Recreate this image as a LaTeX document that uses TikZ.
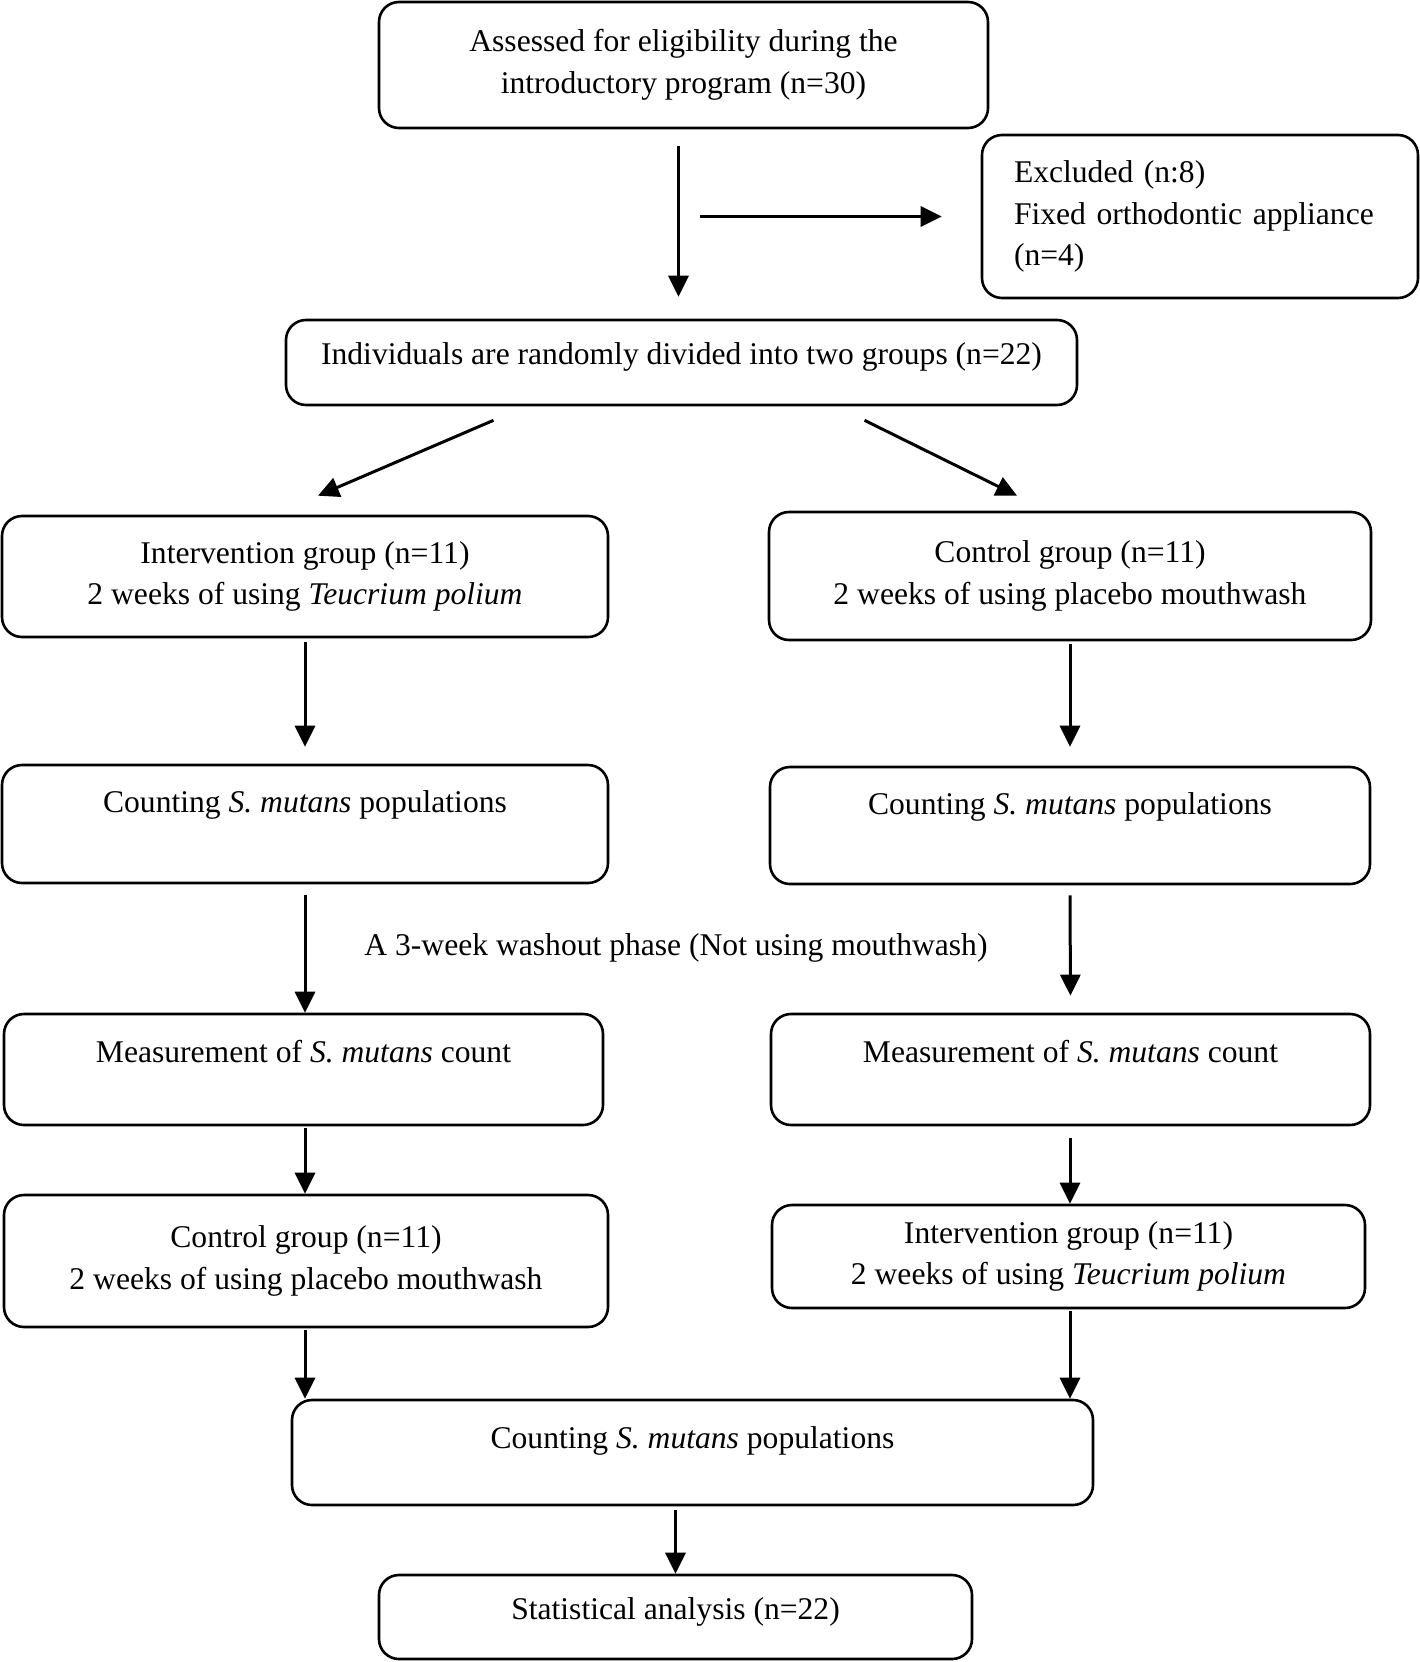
\documentclass[tikz,border=0pt]{standalone}
\usepackage{fontspec}
\setmainfont{Liberation Serif}
\usetikzlibrary{arrows.meta}
\begin{document}
\begin{tikzpicture}[x=1pt,y=-1pt,
    txt/.style={font=\fontsize{31.6}{41.5}\selectfont},
    box/.style={txt,draw,rounded corners=20pt,line width=2.6pt,align=center,inner sep=0pt},
    arr/.style={line width=3pt,-{Triangle[length=21pt,width=20pt]}}
]
\useasboundingbox (0,0) rectangle (1420,1662);

\node[box,minimum width=609,minimum height=126] (assess) at (683.5,65)
  {\raisebox{3pt}{Assessed for eligibility during the}\\\raisebox{3pt}{introductory program (n=30)}};
\node[box,align=left,text width=372,inner xsep=32,minimum height=163] (excl) at (1200,216.5)
  {Excluded (n:8)\\Fixed orthodontic appliance\\(n=4)};
\node[box,minimum width=791,minimum height=85] (rand) at (681.5,362.5)
  {Individuals are randomly divided into two groups (n=22)\\[-36pt]\strut};

\node[box,minimum width=606,minimum height=121] (intA) at (305,576.5)
  {Intervention group (n=11)\\2 weeks of using \textit{Teucrium polium}};
\node[box,minimum width=602,minimum height=128] (ctlA) at (1070,576)
  {Control group (n=11)\\2 weeks of using placebo mouthwash};
\node[box,minimum width=606,minimum height=118] (cntA) at (305,824)
  {Counting \textit{S. mutans} populations\\[-10pt]\strut};
\node[box,minimum width=600,minimum height=117] (cntB) at (1070,825.5)
  {Counting \textit{S. mutans} populations\\[-10pt]\strut};

\node[txt] (wash) at (676,948) {A 3-week washout phase (Not using mouthwash)};

\node[box,minimum width=599,minimum height=111] (measA) at (303.5,1069.5)
  {Measurement of \textit{S. mutans} count\\[-17pt]\strut};
\node[box,minimum width=599,minimum height=111] (measB) at (1070.5,1069.5)
  {Measurement of \textit{S. mutans} count\\[-17pt]\strut};
\node[box,minimum width=604,minimum height=132] (ctlB) at (306,1261)
  {Control group (n=11)\\2 weeks of using placebo mouthwash};
\node[box,minimum width=593,minimum height=103] (intB) at (1068.5,1256.5)
  {Intervention group (n=11)\\2 weeks of using \textit{Teucrium polium}};

\node[box,minimum width=801,minimum height=105] (cntAll) at (692.5,1452.5)
  {Counting \textit{S. mutans} populations\\[-24pt]\strut};
\node[box,minimum width=593,minimum height=84] (stats) at (675.5,1617)
  {Statistical analysis (n=22)\\[-36pt]\strut};

\draw[arr,shorten <=17pt,shorten >=22pt] ([xshift=-5pt]assess.south) -- ([xshift=-5pt]assess.south |- rand.north);
\draw[arr,shorten <=21pt,shorten >=39pt] ([xshift=-5pt]assess.south |- excl.west) -- (excl.west);
\draw[arr] ([xshift=-188pt,yshift=-14pt]rand.south) -- ([xshift=13pt,yshift=19pt]intA.north);
\draw[arr] ([xshift=183pt,yshift=-14pt]rand.south) -- ([xshift=-53pt,yshift=15pt]ctlA.north);

\draw[arr,shorten <=4pt,shorten >=17pt] (intA.south) -- (cntA.north);
\draw[arr,shorten <=3pt,shorten >=19pt] (ctlA.south) -- (cntB.north);
\draw[arr,shorten <=11pt,shorten >=0pt] (cntA.south) -- (cntA.south |- measA.north);
\draw[arr,shorten <=10pt,shorten >=17pt] (cntB.south) -- (measB.north);
\draw[arr,shorten <=2pt] (measA.south -| cntA.south) -- (cntA.south |- ctlB.north);
\draw[arr,shorten <=12pt] (measB.south -| cntB.south) -- (cntB.south |- intB.north);
\draw[arr,shorten <=2pt] (intA.south |- ctlB.south) -- (intA.south |- cntAll.north);
\draw[arr,shorten <=2pt] (ctlA.south |- intB.south) -- (ctlA.south |- cntAll.north);
\draw[arr,shorten <=4pt] (stats.north |- cntAll.south) -- (stats.north);
\end{tikzpicture}
\end{document}
